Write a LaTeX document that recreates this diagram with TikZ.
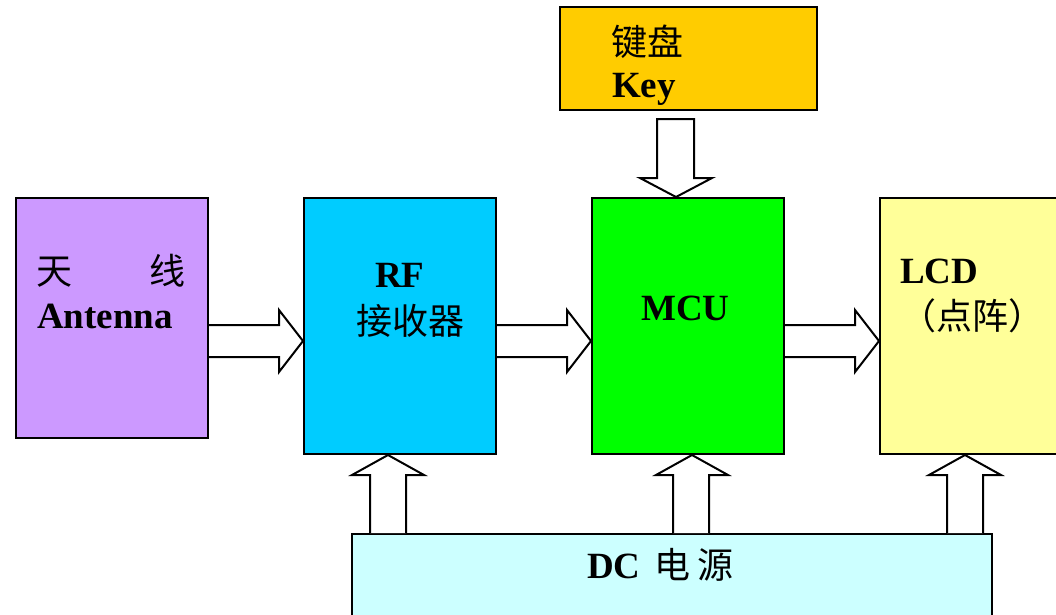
\documentclass[tikz,border=0pt]{standalone}
\usepackage{fontspec}
\setmainfont{Liberation Serif}
\newfontfamily\cjk{Noto Sans CJK SC}
\usetikzlibrary{calc}
\definecolor{antfill}{HTML}{CC99FF}
\definecolor{rffill}{HTML}{00CCFF}
\definecolor{mcufill}{HTML}{00FF00}
\definecolor{lcdfill}{HTML}{FFFF99}
\definecolor{keyfill}{HTML}{FFCC00}
\definecolor{dcfill}{HTML}{CCFFFF}
\begin{document}
\begin{tikzpicture}[x=1pt,y=-1pt,
  box/.style={draw=black,line width=2pt,anchor=north west,inner sep=0pt},
  fat/.style={draw=black,fill=white,line width=2pt,line join=miter},
  lab/.style={inner sep=0pt,font=\fontsize{37}{40}\selectfont,text=black},
  zh/.style={inner sep=0pt,font=\fontsize{36}{40}\selectfont\cjk,text=black}]
\useasboundingbox (0,0) rectangle (1056,614);
\clip (0,0) rectangle (1056,614);
% boxes
\node[box,fill=antfill,minimum width=192pt,minimum height=240pt] (ant) at (15,197) {};
\node[box,fill=rffill,minimum width=192pt,minimum height=256pt] (rf) at (303,197) {};
\node[box,fill=mcufill,minimum width=192pt,minimum height=256pt] (mcu) at (591,197) {};
\node[box,fill=lcdfill,minimum width=200pt,minimum height=256pt] (lcd) at (879,197) {};
\node[box,fill=keyfill,minimum width=257pt,minimum height=103pt] (key) at (559,6) {};
\node[box,fill=dcfill,minimum width=640pt,minimum height=100pt] (dc) at (351,533) {};
% labels
\node[zh,anchor=west] (keyzh) at (611,42) {键盘};
\node[lab,anchor=base west] (keyen) at (612,97) {\bfseries Key};
\node[zh,anchor=west] (antzh) at (36,271) {天\hspace{77pt}线};
\node[lab,anchor=base west] (anten) at (37,328) {\bfseries Antenna};
\node[lab,anchor=base west] (rfen) at (375,287) {\bfseries RF};
\node[zh,anchor=west] (rfzh) at (356,321) {接收器};
\node[lab,anchor=base west] (mcuen) at (641,320) {\bfseries MCU};
\node[lab,anchor=base west] (lcden) at (900,283) {\bfseries LCD};
\node[zh,anchor=west] (lcdzh) at (900,316) {（点阵）};
\node[lab,anchor=base west] (dcen) at (587,578) {\bfseries DC\hspace{14pt}{\fontsize{36}{40}\selectfont\cjk\mdseries 电}\hspace{7pt}{\fontsize{36}{40}\selectfont\cjk\mdseries 源}};
% horizontal fat arrows
\draw[fat] (ant.east |- 0,325) -- ($(rf.west |- 0,325)+(-24,0)$) -- ($(rf.west |- 0,310)+(-24,0)$)
  -- (rf.west |- 0,341) -- ($(rf.west |- 0,372)+(-24,0)$) -- ($(rf.west |- 0,357)+(-24,0)$) -- (ant.east |- 0,357);
\draw[fat] (rf.east |- 0,325) -- ($(mcu.west |- 0,325)+(-24,0)$) -- ($(mcu.west |- 0,310)+(-24,0)$)
  -- (mcu.west |- 0,341) -- ($(mcu.west |- 0,372)+(-24,0)$) -- ($(mcu.west |- 0,357)+(-24,0)$) -- (rf.east |- 0,357);
\draw[fat] (mcu.east |- 0,325) -- ($(lcd.west |- 0,325)+(-24,0)$) -- ($(lcd.west |- 0,310)+(-24,0)$)
  -- (lcd.west |- 0,341) -- ($(lcd.west |- 0,372)+(-24,0)$) -- ($(lcd.west |- 0,357)+(-24,0)$) -- (mcu.east |- 0,357);
% key down arrow
\draw[fat] ($(key.south -| 657,0)+(0,8)$) -- (657,178) -- (640,178) -- (mcu.north -| 676,0)
  -- (712,178) -- (694,178) -- ($(key.south -| 694,0)+(0,8)$) -- cycle;
% upward arrows from DC
\draw[fat] (dc.north -| 370,0) -- ($(rf.south -| 370,0)+(0,20)$) -- ($(rf.south -| 352,0)+(0,20)$)
  -- (rf.south -| 388,0) -- ($(rf.south -| 424,0)+(0,20)$) -- ($(rf.south -| 406,0)+(0,20)$) -- (dc.north -| 406,0);
\draw[fat] (dc.north -| 673,0) -- ($(mcu.south -| 673,0)+(0,20)$) -- ($(mcu.south -| 656,0)+(0,20)$)
  -- (mcu.south -| 692,0) -- ($(mcu.south -| 728,0)+(0,20)$) -- ($(mcu.south -| 709,0)+(0,20)$) -- (dc.north -| 709,0);
\draw[fat] (dc.north -| 947,0) -- ($(lcd.south -| 947,0)+(0,20)$) -- ($(lcd.south -| 929,0)+(0,20)$)
  -- (lcd.south -| 965,0) -- ($(lcd.south -| 1001,0)+(0,20)$) -- ($(lcd.south -| 983,0)+(0,20)$) -- (dc.north -| 983,0);
\end{tikzpicture}
\end{document}
